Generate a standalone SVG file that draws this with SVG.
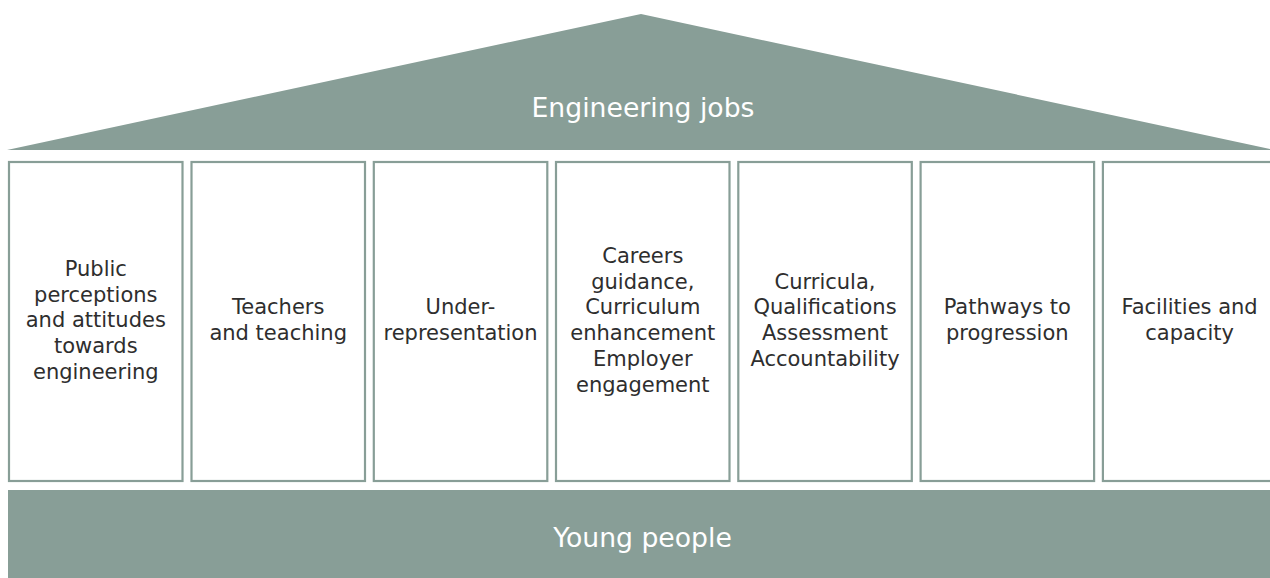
<svg xmlns="http://www.w3.org/2000/svg" width="1270" height="578" viewBox="0 0 1270 578">
<style>
.band{fill:#889e97;}
.col{fill:#ffffff;stroke:#889e97;stroke-width:2.2;}
.big{font-family:"DejaVu Sans","Verdana",sans-serif;font-size:26.67px;fill:#ffffff;text-anchor:middle;}
.lbl{font-family:"DejaVu Sans","Verdana",sans-serif;font-size:21px;fill:#2e2e2e;text-anchor:middle;}
</style>
<rect x="0" y="0" width="1270" height="578" fill="#ffffff"/>
<g id="roof">
<polygon class="band" points="7,150 641,14 1275,150"/>
<text class="big" x="643" y="117">Engineering jobs</text>
</g>
<g id="col1">
<rect class="col" x="9" y="162" width="173.5" height="319"/>
<text class="lbl" x="95.8"><tspan x="95.8" y="275.7">Public</tspan><tspan x="95.8" y="301.5">perceptions</tspan><tspan x="95.8" y="327.3">and attitudes</tspan><tspan x="95.8" y="353.1">towards</tspan><tspan x="95.8" y="378.9">engineering</tspan></text>
</g>
<g id="col2">
<rect class="col" x="191.5" y="162" width="173.5" height="319"/>
<text class="lbl"><tspan x="278.2" y="314.4">Teachers</tspan><tspan x="278.2" y="340.2">and teaching</tspan></text>
</g>
<g id="col3">
<rect class="col" x="373.8" y="162" width="173.5" height="319"/>
<text class="lbl"><tspan x="460.5" y="314.4">Under-</tspan><tspan x="460.5" y="340.2">representation</tspan></text>
</g>
<g id="col4">
<rect class="col" x="556" y="162" width="173.5" height="319"/>
<text class="lbl"><tspan x="642.8" y="262.8">Careers</tspan><tspan x="642.8" y="288.6">guidance,</tspan><tspan x="642.8" y="314.4">Curriculum</tspan><tspan x="642.8" y="340.2">enhancement</tspan><tspan x="642.8" y="366">Employer</tspan><tspan x="642.8" y="391.8">engagement</tspan></text>
</g>
<g id="col5">
<rect class="col" x="738.3" y="162" width="173.5" height="319"/>
<text class="lbl"><tspan x="825" y="288.6">Curricula,</tspan><tspan x="825" y="314.4">Qualifications</tspan><tspan x="825" y="340.2">Assessment</tspan><tspan x="825" y="366">Accountability</tspan></text>
</g>
<g id="col6">
<rect class="col" x="920.6" y="162" width="173.5" height="319"/>
<text class="lbl"><tspan x="1007.3" y="314.4">Pathways to</tspan><tspan x="1007.3" y="340.2">progression</tspan></text>
</g>
<g id="col7">
<rect class="col" x="1102.9" y="162" width="173.5" height="319"/>
<text class="lbl"><tspan x="1189.6" y="314.4">Facilities and</tspan><tspan x="1189.6" y="340.2">capacity</tspan></text>
</g>
<g id="base">
<rect class="band" x="8" y="490" width="1270" height="90"/>
<text class="big" x="642.5" y="547">Young people</text>
</g>
<g id="connectors"></g>
</svg>
